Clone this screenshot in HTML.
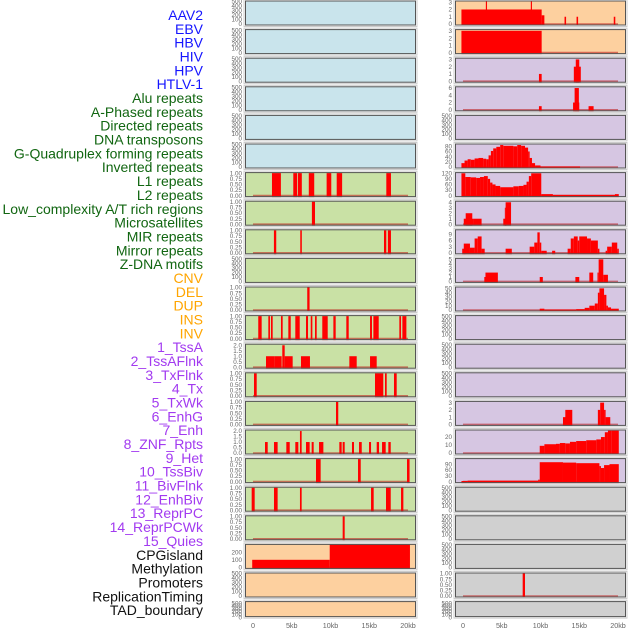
<!DOCTYPE html>
<html><head><meta charset="utf-8"><style>
html,body{margin:0;padding:0;background:#fff;}
svg{display:block;font-family:"Liberation Sans",sans-serif;}
</style></head><body>
<svg id="chart" width="630" height="630" viewBox="0 0 630 630" xmlns="http://www.w3.org/2000/svg">
<g id="labels"></g>
<g id="panels"></g>
<g id="xaxes"></g>
</svg>
<script>
// ---- data ----
const trackLabels = ["AAV2","EBV","HBV","HIV","HPV","HTLV-1","Alu repeats","A-Phased repeats","Directed repeats","DNA transposons","G-Quadruplex forming repeats","Inverted repeats","L1 repeats","L2 repeats","Low_complexity A/T rich regions","Microsatellites","MIR repeats","Mirror repeats","Z-DNA motifs","CNV","DEL","DUP","INS","INV","1_TssA","2_TssAFlnk","3_TxFlnk","4_Tx","5_TxWk","6_EnhG","7_Enh","8_ZNF_Rpts","9_Het","10_TssBiv","11_BivFlnk","12_EnhBiv","13_ReprPC","14_ReprPCWk","15_Quies","CPGisland","Methylation","Promoters","ReplicationTiming","TAD_boundary"];
const labelGroups = [6,13,5,15,5];
const xTickValues = [0,5,10,15,20];
const xTickLabels = ["0","5kb","10kb","15kb","20kb"];
const ticksEmpty = [0,100,200,300,400,500];
const ticksUnit = [0,0.25,0.5,0.75,1.0];
const ticksTwo = [0,0.5,1.0,1.5,2.0];

// left column segments [startKb, endKb, value]
const L6 = [[2.45,3.6,1],[5.2,5.7,1],[5.8,6.3,1],[7.2,7.9,1],[9.5,10.1,1],[10.8,11.5,1],[17.2,17.8,1]];
const L7 = [[7.6,8.0,1]];
const L8 = [[2.7,3.0,1],[6.1,6.3,1],[16.9,17.2,1],[17.4,17.8,1]];
const L10 = [[7.0,7.3,1]];
const L11 = [[0.68,1.12,1],[1.98,2.19,1],[2.32,2.54,1],[3.61,3.83,1],[4.56,4.87,1],[5.46,6.03,1],[6.84,7.1,1],[7.45,7.66,1],[8.0,8.22,1],[8.94,9.64,1],[10.37,10.67,1],[12.04,12.35,1],[15.1,15.35,1],[15.53,16.22,1],[18.88,19.1,1],[19.27,19.79,1]];
const L12 = [[1.68,2.75,1],[2.75,3.7,1],[3.78,4.09,2],[4.09,5.12,1],[6.19,7.35,1],[12.43,13.38,1],[15.1,15.96,1]];
const L13 = [[0.13,0.48,1],[15.74,16.81,1],[17.03,17.25,1],[18.19,18.54,1]];
const L14 = [[10.71,11.0,1]];
const L15 = [[1.55,1.9,1],[2.71,3.18,1],[4.3,4.74,1],[5.46,5.85,1],[6.06,6.28,2],[6.84,7.31,1],[7.57,7.83,1],[8.52,9.08,1],[11.14,11.44,1],[11.57,11.83,1],[12.77,13.03,1],[13.68,14.03,1],[14.97,15.23,1],[15.96,16.26,1],[16.65,17.12,1],[17.46,17.77,1]];
const L16 = [[8.13,8.73,1],[13.55,13.9,1],[19.87,20.2,1]];
const L17 = [[-0.17,0.22,1],[2.71,3.18,1],[6.06,6.28,1],[15.23,15.57,1],[17.16,17.77,1],[19.1,19.4,1]];
const L18 = [[11.57,11.83,1]];
const L19 = [[-0.1,9.9,100],[9.9,20.25,300]];

// right column segments
const R0 = [[-0.2,10.15,2],[2.95,3.1,3.5],[8.75,8.9,3.5],[10.15,10.5,1.2],[13.1,13.3,1],[14.65,14.85,1],[19.45,19.65,1]];
const R1 = [[-0.2,10.15,3]];
const R2 = [[9.8,10.15,1],[14.3,15.2,2],[14.55,15.0,3]];
const R3 = [[9.8,10.15,1],[14.2,15.0,2],[14.4,14.95,6],[16.2,16.85,1]];
const R5 = [[-0.2,0.2,15],[0.2,0.6,25],[0.6,1.0,30],[1.0,1.5,28],[1.5,2.0,33],[2.0,2.6,35],[2.6,3.0,32],[3.0,3.3,30],[3.3,3.6,45],[3.6,3.9,62],[3.9,4.3,72],[4.3,4.8,78],[4.8,5.2,85],[5.2,6.5,82],[6.5,7.0,80],[7.0,7.5,85],[7.5,8.0,82],[8.0,8.4,75],[8.4,8.6,60],[8.6,8.9,35],[8.9,9.3,15],[9.3,10.0,6],[10.0,15.1,2]];
const R6 = [[-0.2,0.3,120],[0.3,1.0,100],[1.0,1.7,98],[1.7,2.2,95],[2.2,2.7,100],[2.7,3.2,105],[3.2,3.5,90],[3.5,3.8,70],[3.8,4.2,60],[4.2,4.8,52],[4.8,6.5,45],[6.5,7.2,50],[7.2,7.8,52],[7.8,8.2,58],[8.2,8.5,75],[8.5,8.8,105],[8.8,10.1,120],[10.1,11.6,8],[11.6,19.6,4],[19.6,20.1,8]];
const R7 = [[0.1,1.3,1],[0.35,1.2,2],[1.3,2.4,1],[5.2,5.6,1],[5.4,5.5,3],[5.5,6.2,4]];
const R8 = [[-0.1,0.3,2],[0.1,0.9,4.5],[0.9,1.5,2.5],[1.5,1.9,7],[1.9,2.4,8],[2.4,2.8,2],[5.5,6.3,2],[8.6,9.2,3],[9.2,9.6,5],[9.6,9.9,10],[9.9,10.1,5],[10.1,10.8,1],[11.5,11.9,1],[13.5,13.9,2],[13.9,14.3,7],[14.3,14.8,8],[14.8,15.0,6],[15.0,16.0,8],[16.0,16.5,7],[16.5,17.4,6],[17.4,17.6,2],[18.4,18.6,1],[18.6,19.2,3],[19.2,19.9,5],[19.9,20.1,2]];
const R9 = [[2.75,2.95,1],[2.9,4.5,2],[9.9,10.3,1],[14.5,15.0,1],[16.3,16.8,2],[17.35,17.5,2],[17.5,18.1,5],[18.1,18.7,1.5]];
const R10 = [[9.9,10.5,3],[10.5,14.6,1],[14.6,15.7,2],[15.7,16.3,5],[16.3,17.0,10],[17.0,17.4,15],[17.4,17.6,40],[17.6,18.2,50],[18.2,18.5,35],[18.5,18.7,10],[18.7,19.1,6],[19.1,20.1,3]];
const R14 = [[12.9,13.4,1],[13.2,14.1,2],[17.4,17.7,2],[17.7,18.2,3],[18.2,18.4,2],[18.4,19.0,1]];
const R15 = [[9.9,10.5,9],[10.5,12.0,11],[12.0,12.5,11.5],[12.5,13.2,12.5],[13.2,13.8,12],[13.8,14.6,14],[14.6,15.9,15],[15.9,17.2,16],[17.2,17.8,17],[17.8,18.3,20],[18.3,18.7,26],[18.7,19.2,28],[19.2,20.1,28]];
const R16 = [[-0.2,0.6,3],[0.6,9.7,5],[9.7,9.9,10],[9.9,12.9,100],[12.9,14.6,98],[14.6,17.6,95],[17.6,17.8,80],[17.8,18.2,70],[18.2,18.9,85],[18.9,20.1,90]];
const R20 = [[7.7,8.0,1]];

// ---- layout / drawing ----
const NS = "http://www.w3.org/2000/svg";
const COLORS = {blue:"#c9e4ec", green:"#c9e1a5", orange:"#fdd09f", purple:"#d6c6e2", gray:"#d0d0d0"};
const colX = [245, 455];
const panelW = 171;
const xMinKb = -1.03, xMaxKb = 21.03;
function xScale(col, kb){ return colX[col] + (kb - xMinKb) / (xMaxKb - xMinKb) * panelW; }
function rowTop(r){ return 0.5 + r * 28.6; }
function rowH(r){ return r === 21 ? 16 : 25; }

function el(tag, attrs, parent){
  const e = document.createElementNS(NS, tag);
  for (const k in attrs) e.setAttribute(k, attrs[k]);
  parent.appendChild(e);
  return e;
}

const leftPanels = [];
for (let r=0;r<22;r++){
  let color = r<6 ? "blue" : (r<19 ? "green" : "orange");
  leftPanels.push({color, data:null, ymax:500, ticks:ticksEmpty});
}
const leftData = {6:L6,7:L7,8:L8,10:L10,11:L11,13:L13,14:L14,16:L16,17:L17,18:L18};
for (const k in leftData){ leftPanels[k].data = leftData[k]; leftPanels[k].ymax = 1.0; leftPanels[k].ticks = ticksUnit; }
leftPanels[12].data = L12; leftPanels[12].ymax = 2.05; leftPanels[12].ticks = ticksTwo;
leftPanels[15].data = L15; leftPanels[15].ymax = 2.05; leftPanels[15].ticks = ticksTwo;
leftPanels[19].data = L19; leftPanels[19].ymax = 296; leftPanels[19].ticks = [0,100,200];

const rightPanels = [];
for (let r=0;r<22;r++){
  let color = r<2 ? "orange" : (r<17 ? "purple" : "gray");
  rightPanels.push({color, data:null, ymax:500, ticks:ticksEmpty});
}
function setR(r, data, ymax, ticks){ rightPanels[r].data = data; rightPanels[r].ymax = ymax; rightPanels[r].ticks = ticks; }
setR(0, R0, 3.1, [0,1,2,3]);
setR(1, R1, 3.1, [0,1,2,3]);
setR(2, R2, 3.1, [0,1,2,3]);
setR(3, R3, 6.2, [0,2,4,6]);
setR(5, R5, 87, [0,20,40,60,80]);
setR(6, R6, 121, [0,30,60,90,120]);
setR(7, R7, 4.1, [0,1,2,3,4]);
setR(8, R8, 11, [0,3,6,9]);
setR(9, R9, 5.1, [0,1,2,3,4,5]);
setR(10, R10, 52, [0,10,20,30,40,50]);
setR(14, R14, 3.1, [0,1,2,3]);
setR(15, R15, 28.2, [0,10,20]);
setR(16, R16, 116, [0,30,60,90]);
setR(20, R20, 1.0, ticksUnit);

function fmtTick(v, ticks){
  if (ticks === ticksUnit) return v.toFixed(2);
  if (ticks === ticksTwo) return v.toFixed(1);
  return String(v);
}

const gPanels = document.getElementById("panels");
function drawPanel(col, r, p){
  const top = rowTop(r), h = rowH(r);
  const g = el("g", {}, gPanels);
  
  
  el("rect", {x:colX[col]-1, y:top-1, width:panelW+2, height:h+2, fill:"none", stroke:"#ccc", "stroke-width":1}, g);
  el("rect", {x:colX[col], y:top, width:panelW, height:h, fill:COLORS[p.color]}, g);
  const y0 = top + h - 1.5, y1 = top + 1;
  const yScale = v => y0 - v / p.ymax * (y0 - y1);
  if (p.data){
    el("line", {x1:xScale(col,0), x2:xScale(col,20), y1:y0, y2:y0, stroke:"rgba(190,20,20,0.55)", "stroke-width":1.6}, g);
    for (const s of p.data){
      const xa = xScale(col,s[0]), xb = xScale(col,s[1]);
      const yv = Math.max(top, yScale(s[2]));
      const b = el("rect", {x:xa, y:yv, width:Math.max(0.8,xb-xa), height:top+h-yv, fill:"#ff0000"}, g);
      
      
    }
  }
  el("rect", {x:colX[col]+0.5, y:top+0.5, width:panelW-1, height:h-1, fill:"none", stroke:"#555", "stroke-width":1}, g);
  for (const t of p.ticks){
    const ty = r===21 ? top + h - (t/500)*(h-2) : yScale(t);
    const tx = el("text", {x:colX[col]-3, y:ty+2.2, "text-anchor":"end", "font-size":6.3, fill:"#666"}, g);
    tx.textContent = fmtTick(t, p.ticks);
    
    
  }
}
for (let r=0;r<22;r++){ drawPanel(0, r, leftPanels[r]); drawPanel(1, r, rightPanels[r]); }

const gX = document.getElementById("xaxes");
for (let c=0;c<2;c++){
  xTickValues.forEach((v,i)=>{
    const t = el("text", {x:xScale(c,v), y:628, "text-anchor":"middle", "font-size":7.2, fill:"#666"}, gX);
    t.textContent = xTickLabels[i];
    
    
  });
}

const labelColors = ["#1515ff","#116611","#ffa500","#a23af0","#111111"];
const gL = document.getElementById("labels");
let idx = 0;
labelGroups.forEach((n,gi)=>{
  for (let k=0;k<n;k++){
    const t = el("text", {x:203, y:20 + idx*13.84, "text-anchor":"end", "font-size":14, fill:labelColors[gi]}, gL);
    t.textContent = trackLabels[idx];
    
    
    idx++;
  }
});
</script>
</body></html>
